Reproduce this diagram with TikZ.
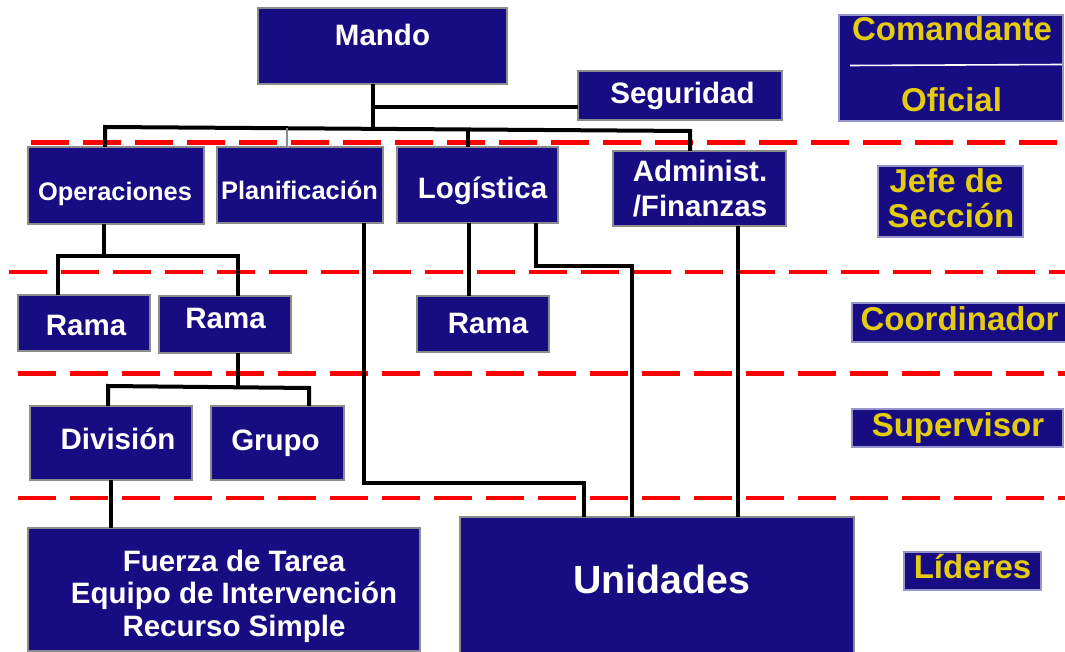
\documentclass[tikz,border=0pt]{standalone}
\usepackage{fontspec}
\setmainfont{Liberation Sans}
\definecolor{navy}{RGB}{24,12,130}
\definecolor{boxgray}{RGB}{140,140,140}
\definecolor{legb}{RGB}{150,150,205}
\definecolor{gold}{RGB}{228,204,16}
\tikzset{
  box/.style={draw=boxgray, line width=1.3pt, fill=navy, inner sep=0pt, outer sep=0pt},
  legbox/.style={draw=legb, line width=1.3pt, fill=navy, inner sep=0pt, outer sep=0pt},
  wt/.style={text=white, anchor=base, inner sep=0pt, font=\fontsize{29.5}{35}\selectfont\bfseries},
  wts/.style={wt, font=\fontsize{25.4}{30}\selectfont\bfseries},
  wtb/.style={wt, font=\fontsize{39.3}{45}\selectfont\bfseries},
  yt/.style={text=gold, anchor=base, inner sep=0pt, font=\fontsize{33}{38}\selectfont\bfseries},
  conn/.style={line width=4pt, black},
  thinconn/.style={line width=1.6pt, boxgray},
  rdash/.style={red, line width=4.8pt, dash pattern=on 38pt off 14pt},
}
\begin{document}
\begin{tikzpicture}[x=1pt, y=-1pt]
\useasboundingbox (0,0) rectangle (1065,652);

% red dashed level separators
\coordinate (d1a) at (31,142.5);  \coordinate (d1b) at (1066,142.5);
\coordinate (d2a) at (9,272);     \coordinate (d2b) at (1066,272);
\coordinate (d3a) at (18,373.5);  \coordinate (d3b) at (1066,373.5);
\coordinate (d4a) at (18,498);    \coordinate (d4b) at (1066,498);
\draw[rdash] (d1a) -- (d1b);
\draw[rdash] (d2a) -- (d2b);
\draw[rdash] (d3a) -- (d3b);
\draw[rdash] (d4a) -- (d4b);

% boxes
\node[box, minimum width=249pt, minimum height=76pt] (mando) at (382.5,46) {};
\node[box, minimum width=204pt, minimum height=49pt] (segur) at (680,95.5) {};
\node[box, minimum width=176pt, minimum height=77pt] (ops) at (116,185.5) {};
\node[box, minimum width=166pt, minimum height=76pt] (plan) at (300,185) {};
\node[box, minimum width=161pt, minimum height=76pt] (log) at (477.5,185) {};
\node[box, minimum width=173pt, minimum height=75pt] (adm) at (699.5,188.5) {};
\node[box, minimum width=132pt, minimum height=56pt] (rama1) at (84,323) {};
\node[box, minimum width=132pt, minimum height=57pt] (rama2) at (225,324.5) {};
\node[box, minimum width=132pt, minimum height=56pt] (rama3) at (483,324) {};
\node[box, minimum width=162pt, minimum height=74pt] (div) at (111,443) {};
\node[box, minimum width=133pt, minimum height=74pt] (grupo) at (277.5,443) {};
\node[box, minimum width=392pt, minimum height=123pt] (fuerza) at (224,589.5) {};
\node[box, minimum width=394pt, minimum height=140pt] (unid) at (657,587) {};

% legend boxes
\node[legbox, minimum width=224pt, minimum height=106pt] (cmd) at (951,68) {};
\node[legbox, minimum width=145pt, minimum height=71pt] (jefe) at (950.5,201.5) {};
\node[legbox, minimum width=218pt, minimum height=39pt] (coord) at (961,322.5) {};
\node[legbox, minimum width=211pt, minimum height=38pt] (sup) at (957.5,428) {};
\node[legbox, minimum width=137pt, minimum height=38pt] (lid) at (972.5,571) {};
\coordinate (cl1) at (850,65.5); \coordinate (cl2) at (1062,64.5);
\draw[white, line width=1.6pt] (cl1) -- (cl2);

% connectors
\coordinate (mj) at (373,129);
\coordinate (sj) at (373,107);
\draw[conn] (mando.south -| mj) -- (mj);
\draw[conn] (sj) -- (segur.west |- sj);
\coordinate (bl) at (105,127);
\coordinate (br) at (690,131);
\draw[conn] (ops.north -| bl) -- (bl) -- (br) -- (adm.north -| br);
\coordinate (lj) at (468,130);
\draw[conn] (log.north -| lj) -- (lj);
\coordinate (pj) at (287,128);
\draw[thinconn] (plan.north -| pj) -- (pj);

\coordinate (oj) at (104,256);
\coordinate (r1j) at (58,256);
\coordinate (r2j) at (238,256);
\draw[conn] (ops.south -| oj) -- (oj);
\draw[conn] (rama1.north -| r1j) -- (r1j) -- (r2j) -- (rama2.north -| r2j);

\coordinate (rj) at (238,387);
\coordinate (dj) at (108,386);
\coordinate (gj) at (309,388);
\draw[conn] (rama2.south -| rj) -- (rj);
\draw[conn] (div.north -| dj) -- (dj) -- (gj) -- (grupo.north -| gj);

\coordinate (fj) at (111,0);
\draw[conn] (div.south -| fj) -- (fuerza.north -| fj);

\coordinate (l3j) at (469,0);
\draw[conn] (log.south -| l3j) -- (rama3.north -| l3j);

\coordinate (pa) at (364,483);
\coordinate (pb) at (584,483);
\draw[conn] (plan.south -| pa) -- (pa) -- (pb) -- (unid.north -| pb);

\coordinate (la) at (536,266);
\coordinate (lb) at (632,266);
\draw[conn] (log.south -| la) -- (la) -- (lb) -- (unid.north -| lb);

\coordinate (aj) at (738,0);
\draw[conn] (adm.south -| aj) -- (unid.north -| aj);

% texts
\node[wt] (tmando) at (382.5,45.5) {Mando};
\node[wt] (tsegur) at (682.5,103.5) {Seguridad};
\node[wts] (tops) at (115,201) {Operaciones};
\node[wts] (tplan) at (299.5,200) {Planificación};
\node[wt] (tlog) at (482.5,199) {Logística};
\node[wt] (tadm1) at (700,181.5) {Administ.};
\node[wt] (tadm2) at (700,216.5) {/Finanzas};
\node[wt] (tr1) at (86,335) {Rama};
\node[wt] (tr2) at (225.5,328.5) {Rama};
\node[wt] (tr3) at (488,333) {Rama};
\node[wt] (tdiv) at (118,449.5) {División};
\node[wt] (tgrupo) at (275.5,450) {Grupo};
\node[wt] (tf1) at (234,571.5) {Fuerza de Tarea};
\node[wt] (tf2) at (234,603) {Equipo de Intervención};
\node[wt] (tf3) at (234,636) {Recurso Simple};
\node[wtb] (tunid) at (661.5,593) {Unidades};

\node[yt] (tcmd) at (952,41) {Comandante};
\node[yt] (tofi) at (951.5,112) {Oficial};
\node[yt] (tjefe1) at (946.5,192.5) {Jefe de};
\node[yt] (tjefe2) at (951,227.5) {Sección};
\node[yt] (tcoord) at (959.5,330.5) {Coordinador};
\node[yt] (tsup) at (958,436) {Supervisor};
\node[yt] (tlid) at (972.5,578) {Líderes};
\end{tikzpicture}
\end{document}
